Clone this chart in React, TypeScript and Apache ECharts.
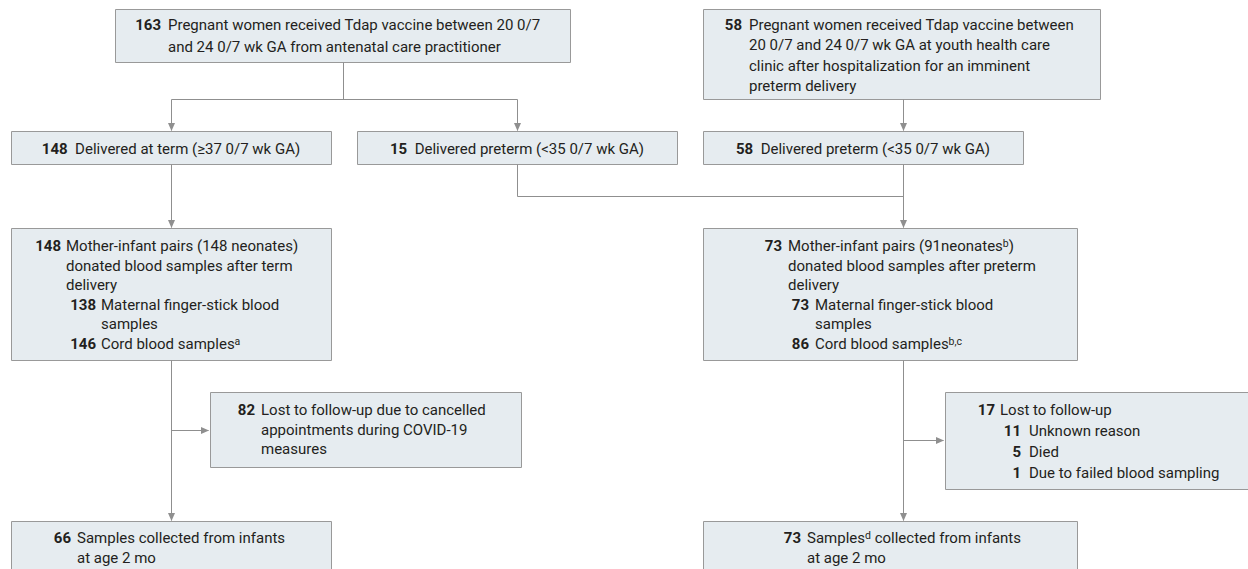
import React, { useEffect, useRef } from "react";
import * as echarts from "echarts";

// ---- Data (text content of the flow chart) ----
const topLeftNum = "163";
const topLeftLines = [
  "Pregnant women received Tdap vaccine between 20 0/7",
  "and 24 0/7 wk GA from antenatal care practitioner",
];
const topRightNum = "58";
const topRightLines = [
  "Pregnant women received Tdap vaccine between",
  "20 0/7 and 24 0/7 wk GA at youth health care",
  "clinic after hospitalization for an imminent",
  "preterm delivery",
];
const deliveryNums = ["148", "15", "58"];
const deliveryTexts = [
  "Delivered at term (≥37 0/7 wk GA)",
  "Delivered preterm (<35 0/7 wk GA)",
  "Delivered preterm (<35 0/7 wk GA)",
];
const termPairsNum = "148";
const termPairsLines = [
  "Mother-infant pairs (148 neonates)",
  "donated blood samples after term",
  "delivery",
];
const termSubNums = ["138", "146"];
const termSubLines = [
  ["Maternal finger-stick blood", "samples"],
  ["Cord blood samples{sup|a}"],
];
const pretermPairsNum = "73";
const pretermPairsLines = [
  "Mother-infant pairs (91neonates{sup|b})",
  "donated blood samples after preterm",
  "delivery",
];
const pretermSubNums = ["73", "86"];
const pretermSubLines = [
  ["Maternal finger-stick blood", "samples"],
  ["Cord blood samples{sup|b,c}"],
];
const lostTermNum = "82";
const lostTermLines = [
  "Lost to follow-up due to cancelled",
  "appointments during COVID-19",
  "measures",
];
const lostPretermNum = "17";
const lostPretermText = "Lost to follow-up";
const lostReasonNums = ["11", "5", "1"];
const lostReasonTexts = ["Unknown reason", "Died", "Due to failed blood sampling"];
const finalNums = ["66", "73"];
const finalLines = [
  ["Samples collected from infants", "at age 2 mo"],
  ["Samples{sup|d} collected from infants", "at age 2 mo"],
];

// ---- Styles ----
const FONT = "Roboto, 'Noto Sans', sans-serif";
const FS = 15;
const TXT = "#231f20";
const FILL = "#e6ecf0";
const BORDER = "#999999";
const LINE = "#8f8f8f";

const rich = {
  sup: { fontSize: 10.5, fontFamily: FONT, fill: TXT, verticalAlign: "top", padding: [0, 0, 6, 0] },
  b: { fontSize: FS, fontFamily: FONT, fontWeight: "bold", fill: TXT },
};

function box(x: number, y: number, w: number, h: number) {
  return {
    type: "rect",
    shape: { x: x + 0.5, y: y + 0.5, width: w, height: h },
    style: { fill: FILL, stroke: BORDER, lineWidth: 1 },
    z: 1,
  };
}
function txt(x: number, y: number, s: string, opts: any = {}) {
  const align = opts.align || "left";
  return {
    type: "text",
    x,
    y,
    z: 5,
    style: {
      text: s,
      fontSize: FS,
      fontFamily: FONT,
      fontWeight: opts.bold ? "bold" : "normal",
      fill: TXT,
      align,
      textAlign: align,
      verticalAlign: "middle",
      textVerticalAlign: "middle",
      rich,
    },
  };
}
function seg(x1: number, y1: number, x2: number, y2: number) {
  return {
    type: "line",
    shape: { x1: x1 + 0.5, y1: y1 + 0.5, x2: x2 + 0.5, y2: y2 + 0.5 },
    style: { stroke: LINE, lineWidth: 1 },
    z: 2,
  };
}
function arrowDown(x: number, y: number) {
  const cx = x + 0.5;
  return {
    type: "polygon",
    shape: { points: [[cx - 3.5, y - 8], [cx + 3.5, y - 8], [cx, y]] },
    style: { fill: LINE },
    z: 3,
  };
}
function arrowRight(x: number, y: number) {
  const cy = y + 0.5;
  return {
    type: "polygon",
    shape: { points: [[x - 8, cy - 3.5], [x - 8, cy + 3.5], [x, cy]] },
    style: { fill: LINE },
    z: 3,
  };
}
// number (bold, right aligned at numRight) + lines at textX
function entry(numRight: number, textX: number, y0: number, lh: number, num: string, lines: string[]) {
  const els: any[] = [txt(numRight, y0, num, { bold: true, align: "right" })];
  lines.forEach((l, i) => els.push(txt(textX, y0 + i * lh, l)));
  return els;
}

export default function App() {
  const ref = useRef<HTMLDivElement>(null);
  useEffect(() => {
    document.body.style.margin = "0";
    const chart = echarts.init(ref.current!, null, { renderer: "svg" });
    const els: any[] = [];
    const LH = 19.6;

    // Top left box
    els.push(box(115, 9, 455, 53));
    els.push(...entry(161, 168, 25, 21.5, topLeftNum, topLeftLines));
    // Top right box
    els.push(box(703, 9, 397, 90));
    els.push(...entry(742, 749, 24.5, 20.5, topRightNum, topRightLines));

    // Connectors top
    els.push(seg(343, 62, 343, 99), seg(171, 99, 517, 99));
    els.push(seg(171, 99, 171, 130), arrowDown(171, 131));
    els.push(seg(517, 99, 517, 130), arrowDown(517, 131));
    els.push(seg(903, 99, 903, 130), arrowDown(903, 131));

    // Row 2
    const r2 = [
      [11, 320],
      [357, 320],
      [703, 320],
    ];
    r2.forEach(([x, w], i) => {
      els.push(box(x, 131, w, 33));
      els.push(txt(x + w / 2, 149, `{b|${deliveryNums[i]}}  ${deliveryTexts[i]}`, { align: "center" }));
    });

    // Connectors row 2 -> row 3
    els.push(seg(171, 164, 171, 227), arrowDown(171, 228));
    els.push(seg(517, 164, 517, 196), seg(517, 196, 903, 196));
    els.push(seg(903, 164, 903, 227), arrowDown(903, 228));

    // Row 3 left
    els.push(box(11, 228, 320, 132));
    els.push(...entry(61, 66, 246, LH, termPairsNum, termPairsLines));
    els.push(...entry(96, 101, 246 + 3 * LH, LH, termSubNums[0], termSubLines[0]));
    els.push(...entry(96, 101, 246 + 5 * LH, LH, termSubNums[1], termSubLines[1]));
    // Row 3 right
    els.push(box(703, 228, 374, 132));
    els.push(...entry(782, 788, 246, LH, pretermPairsNum, pretermPairsLines));
    els.push(...entry(809, 815, 246 + 3 * LH, LH, pretermSubNums[0], pretermSubLines[0]));
    els.push(...entry(809, 815, 246 + 5 * LH, LH, pretermSubNums[1], pretermSubLines[1]));

    // Connectors row 3 -> final
    els.push(seg(171, 360, 171, 520), arrowDown(171, 521));
    els.push(seg(171, 430, 208, 430), arrowRight(209, 430));
    els.push(seg(903, 360, 903, 520), arrowDown(903, 521));
    els.push(seg(903, 440, 943, 440), arrowRight(944, 440));

    // Lost boxes
    els.push(box(210, 392, 311, 75));
    els.push(...entry(255, 261, 410, 19.5, lostTermNum, lostTermLines));
    els.push(box(945, 392, 320, 97));
    els.push(...entry(995, 1000, 409.5, LH, lostPretermNum, [lostPretermText]));
    lostReasonNums.forEach((n, i) => {
      els.push(...entry(1021, 1029, 430.5 + i * 21, LH, n, [lostReasonTexts[i]]));
    });

    // Final boxes
    els.push(box(11, 521, 320, 60));
    els.push(...entry(71, 77, 538, 20, finalNums[0], finalLines[0]));
    els.push(box(703, 521, 374, 60));
    els.push(...entry(801, 807, 538, 20, finalNums[1], finalLines[1]));

    chart.setOption({
      animation: false,
      graphic: { elements: els },
    });
    return () => chart.dispose();
  }, []);
  return <div ref={ref} style={{ width: 1248, height: 569, background: "#fff" }} />;
}
